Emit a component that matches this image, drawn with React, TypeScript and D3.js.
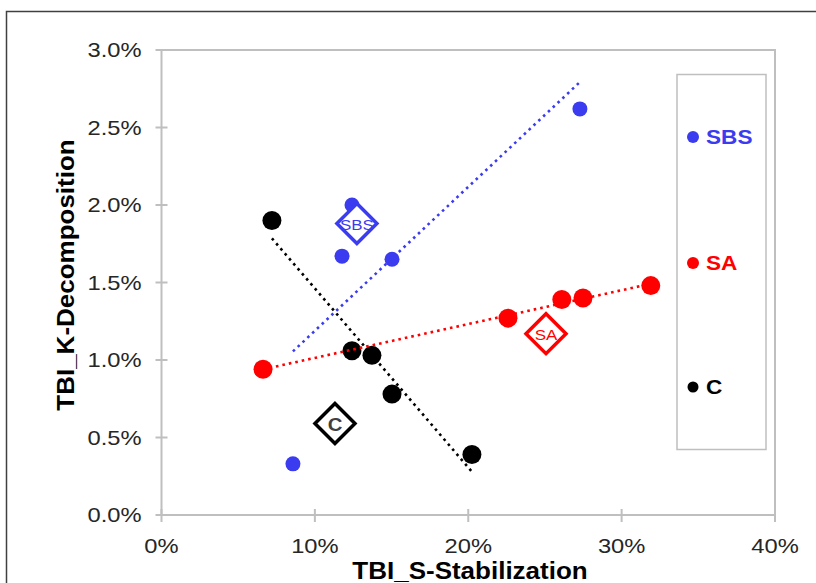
import React, { useRef, useEffect } from 'react';
import * as d3 from 'd3';

// values in percent
const sbsX = [12.42, 11.77, 15.03, 27.28, 8.57];
const sbsY = [2.0, 1.67, 1.65, 2.62, 0.33];
const saX = [6.62, 22.59, 26.1, 27.48, 31.9];
const saY = [0.94, 1.27, 1.39, 1.4, 1.48];
const cX = [7.2, 12.42, 13.72, 15.03, 20.24];
const cY = [1.9, 1.06, 1.03, 0.78, 0.39];

const centerNames = ['SBS', 'SA', 'C'];
const centerX = [12.74, 25.07, 11.31];
const centerY = [1.88, 1.17, 0.59];

const xTicks = [0, 10, 20, 30, 40];
const yTicks = [0, 0.5, 1.0, 1.5, 2.0, 2.5, 3.0];
const legendNames = ['SBS', 'SA', 'C'];

const BLUE = '#3B3BF0';
const RED = '#FF0000';
const BLACK = '#000000';

const FONT = '"Liberation Sans", Arial, sans-serif';
const STRETCH = 1.13;

const fitLine = (xs: number[], ys: number[]) => {
    const mx = d3.mean(xs)!;
    const my = d3.mean(ys)!;
    const sxy = d3.sum(xs, (x, i) => (x - mx) * (ys[i] - my));
    const sxx = d3.sum(xs, x => (x - mx) * (x - mx));
    const b = sxy / sxx;
    const x0 = d3.min(xs)!;
    const x1 = d3.max(xs)!;
    return [
        [x0, my + b * (x0 - mx)],
        [x1, my + b * (x1 - mx)],
    ];
};

const App = () => {
    const svgRef = useRef<SVGSVGElement>(null);

    useEffect(() => {
        const svg = d3.select(svgRef.current);
        svg.selectAll('*').remove();

        const left = 161.5, right = 775, top = 50, bottom = 515;

        const x = d3.scaleLinear().domain([0, 40]).range([left, right]);
        const y = d3.scaleLinear().domain([0, 3]).range([bottom, top]);

        // outer chart frame
        svg.append('rect')
            .attr('x', 6.5).attr('y', 11.5)
            .attr('width', 830).attr('height', 600)
            .attr('fill', 'white')
            .attr('stroke', '#404040')
            .attr('stroke-width', 1.5);

        // plot area border
        svg.append('rect')
            .attr('x', left).attr('y', top)
            .attr('width', right - left).attr('height', bottom - top)
            .attr('fill', 'none')
            .attr('stroke', '#BFBFBF')
            .attr('stroke-width', 2);

        // stretched text helper
        const label = (g: any, tx: number, ty: number, text: string, size: number, opts: any = {}) => {
            const t = g.append('g')
                .attr('transform', `translate(${tx},${ty}) rotate(${opts.rotate || 0}) scale(${STRETCH},1)`)
                .append('text')
                .attr('text-anchor', opts.anchor || 'middle')
                .attr('dominant-baseline', 'central')
                .attr('font-family', FONT)
                .attr('font-size', size)
                .attr('font-weight', opts.bold ? 'bold' : 'normal')
                .attr('fill', opts.fill || '#262626')
                .text(text);
            return t;
        };

        // y ticks
        yTicks.forEach(v => {
            svg.append('line')
                .attr('x1', left - 6).attr('x2', left + 6)
                .attr('y1', y(v)).attr('y2', y(v))
                .attr('stroke', '#BFBFBF').attr('stroke-width', 2);
            label(svg, left - 20, y(v), `${v.toFixed(1)}%`, 21, { anchor: 'end' });
        });

        // x ticks
        xTicks.forEach(v => {
            svg.append('line')
                .attr('x1', x(v)).attr('x2', x(v))
                .attr('y1', bottom - 6).attr('y2', bottom + 7)
                .attr('stroke', '#BFBFBF').attr('stroke-width', 2);
            label(svg, x(v), 546, `${v}%`, 21);
        });

        // axis titles
        label(svg, 470, 571, 'TBI_S-Stabilization', 23, { bold: true, fill: '#000' });
        label(svg, 66, 275, 'TBI_K-Decomposition', 23, { bold: true, fill: '#000', rotate: -90 });

        const series = [
            { xs: sbsX, ys: sbsY, color: BLUE, r: 7.5 },
            { xs: saX, ys: saY, color: RED, r: 9.5 },
            { xs: cX, ys: cY, color: BLACK, r: 9.5 },
        ];

        // points
        series.forEach(s => {
            svg.append('g').selectAll('circle')
                .data(s.xs.map((v, i) => [v, s.ys[i]]))
                .join('circle')
                .attr('cx', d => x(d[0]))
                .attr('cy', d => y(d[1]))
                .attr('r', s.r)
                .attr('fill', s.color);
        });

        // dotted trendlines
        const line = d3.line<number[]>()
            .x(d => x(d[0]))
            .y(d => y(d[1]));
        series.forEach(s => {
            svg.append('path')
                .datum(fitLine(s.xs, s.ys))
                .attr('fill', 'none')
                .attr('stroke', s.color)
                .attr('stroke-width', 2.6)
                .attr('stroke-dasharray', '2.6 4')
                .attr('d', line);
        });

        // centre diamonds
        const centerColors = [BLUE, RED, '#000'];
        const textColors = [BLUE, RED, '#404040'];
        centerNames.forEach((name, i) => {
            const cx = x(centerX[i]);
            const cy = y(centerY[i]);
            const h = 20;
            svg.append('path')
                .attr('d', `M${cx},${cy - h}L${cx + h},${cy}L${cx},${cy + h}L${cx - h},${cy}Z`)
                .attr('fill', 'white')
                .attr('stroke', centerColors[i])
                .attr('stroke-width', 3.5)
                .attr('stroke-linejoin', 'miter');
            label(svg, cx, cy + 1, name, name === 'C' ? 18 : 15, {
                fill: textColors[i],
                bold: name === 'C',
            });
        });

        // legend
        svg.append('rect')
            .attr('x', 677).attr('y', 74.5)
            .attr('width', 89).attr('height', 375)
            .attr('fill', 'white')
            .attr('stroke', '#BFBFBF')
            .attr('stroke-width', 1.5);

        const legendColors = [BLUE, RED, BLACK];
        const legendY = [137, 263, 387];
        legendNames.forEach((name, i) => {
            svg.append('circle')
                .attr('cx', 693).attr('cy', legendY[i])
                .attr('r', i === 2 ? 5.5 : 6)
                .attr('fill', legendColors[i]);
            label(svg, 706, legendY[i], name, 20, {
                anchor: 'start',
                bold: true,
                fill: legendColors[i],
            });
        });
    }, []);

    return (
        <svg
            ref={svgRef}
            width={816}
            height={583}
            style={{ position: 'absolute', left: 0, top: 0, background: 'white' }}
        />
    );
};

export default App;
